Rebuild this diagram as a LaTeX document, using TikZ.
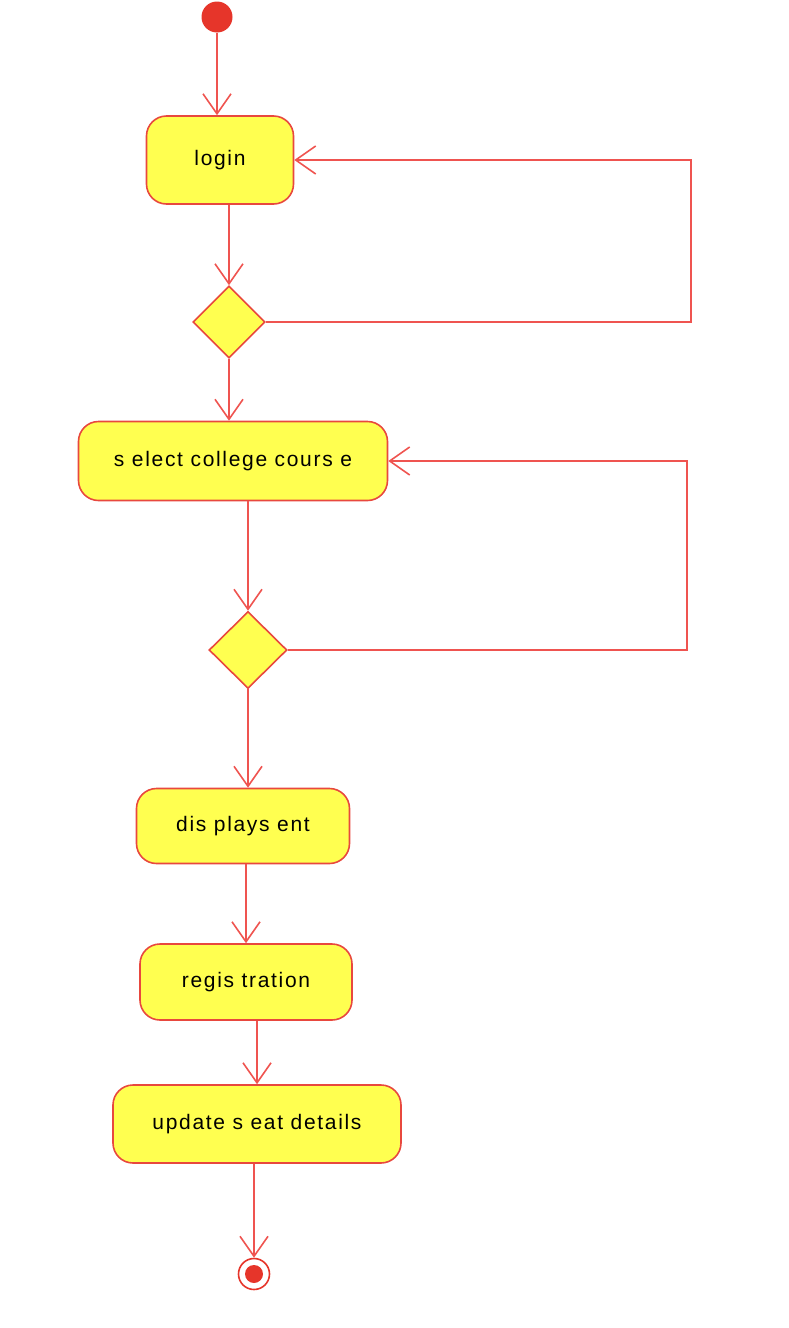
\documentclass[tikz,border=0pt]{standalone}
\usepackage{fontspec}
\setsansfont{Liberation Sans}[LetterSpace=8]
\usetikzlibrary{shapes,arrows.meta}

\definecolor{actline}{HTML}{EF5450}
\definecolor{actborder}{HTML}{E8483E}
\definecolor{actfill}{HTML}{FFFF50}
\definecolor{actdot}{HTML}{E6352A}

\begin{document}
\begin{tikzpicture}[x=1pt,y=1pt,->,>={Straight Barb[length=20pt,width=28pt]},line width=1.6pt,
  main node/.style={rectangle,rounded corners=20pt,draw=actborder,fill=actfill,text=black,font=\sffamily\fontsize{21}{25}\selectfont},
  choice node/.style={diamond,draw=actborder,fill=actfill,inner sep=0pt,minimum width=72pt,minimum height=72pt},
  every edge/.append style={actline}]

  \useasboundingbox (0,0) rectangle (788,-1328);

  \node[circle,fill=actdot,minimum size=31pt,inner sep=0pt] (1) at (217,-17) {};
  \node[main node,minimum width=147pt,minimum height=88pt] (2) at (220,-160) {login};
  \node[choice node] (3) at (229,-322) {};
  \node[main node,minimum width=309pt,minimum height=79pt] (4) at (233,-461) {s elect college cours e};
  \node[choice node,minimum width=78pt,minimum height=77pt] (5) at (248,-650) {};
  \node[main node,minimum width=213pt,minimum height=75pt] (6) at (243,-826) {dis plays ent};
  \node[main node,minimum width=212pt,minimum height=76pt] (7) at (246,-982) {regis tration};
  \node[main node,minimum width=288pt,minimum height=78pt] (8) at (257,-1124) {update s eat details};
  \node[circle,draw=actdot,minimum size=31pt,inner sep=0pt,
    path picture={\fill[actdot] (path picture bounding box.center) circle (9pt);}] (9) at (254,-1274) {};

  \path
    (1.south) edge (1.south |- 2.north)
    (3.north |- 2.south) edge (3.north)
    (3.south) edge (3.south |- 4.north)
    (5.north |- 4.south) edge (5.north)
    (5.south) edge (5.south |- 6.north)
    (7.north |- 6.south) edge (7.north)
    (8.north |- 7.south) edge (8.north)
    (9.north |- 8.south) edge (9.north);

  % loops back
  \draw[actline] (3.east) -- ++(425,0) |- (2.east);
  \draw[actline] (5.east) -- ++(399,0) |- (4.east);
\end{tikzpicture}
\end{document}
